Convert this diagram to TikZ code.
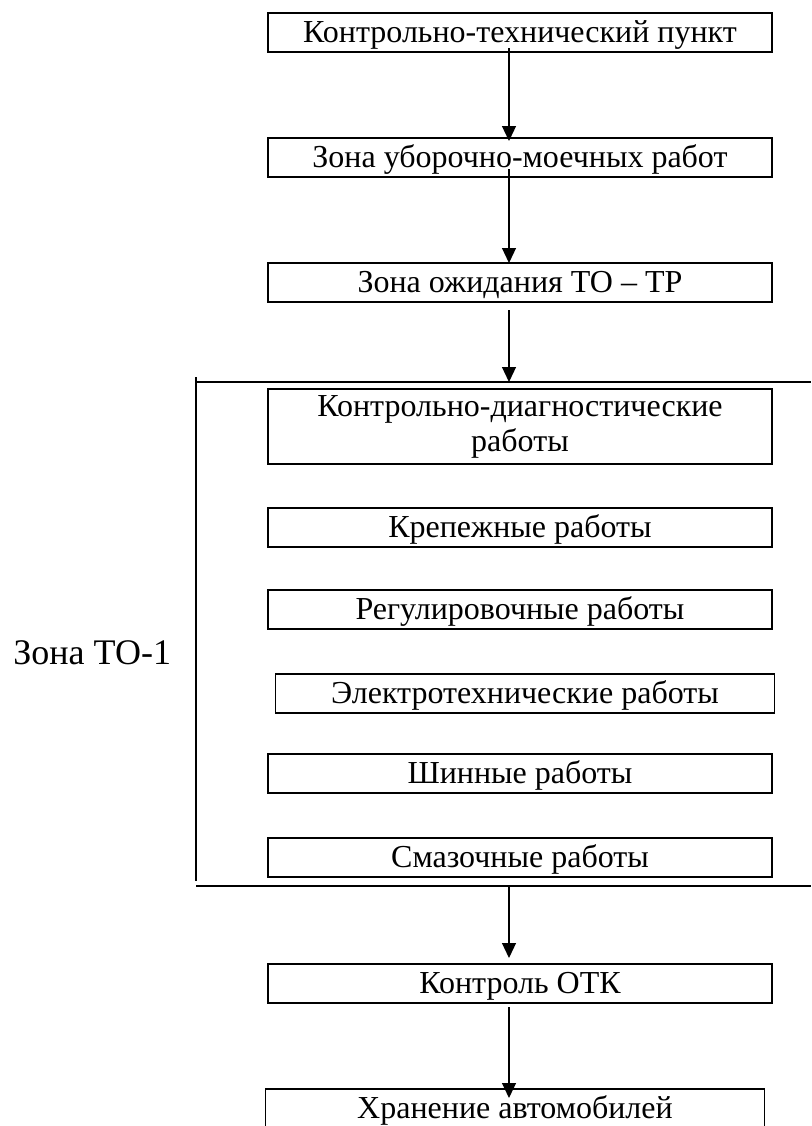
\documentclass[tikz,border=0pt]{standalone}
\usepackage{fontspec}
\setmainfont{Liberation Serif}
\usetikzlibrary{arrows.meta,positioning,calc}

\begin{document}
\begin{tikzpicture}[
    node distance=43pt,
    box/.style={rectangle, draw, line width=0.8pt, outer sep=0pt, minimum width=252pt, minimum height=19.5pt, inner xsep=1pt, inner ysep=0.5pt, text height=14pt, text depth=4.5pt, align=center, font=\fontsize{16}{17.5}\selectfont},
    twobox/.style={box, text height={}, text depth={}, minimum height=37.5pt},
    arrow/.style={-{Triangle[length=7.5pt,width=7pt]}, line width=0.6pt},
    zone/.style={line width=1pt}
]
\useasboundingbox (0,0) rectangle (405.5pt,-563pt);

% Entry chain
\node[box] (ktp) at (260pt,-16.25pt) {Контрольно-технический пункт};
\node[box, below=of ktp] (wash) {Зона уборочно-моечных работ};
\node[box, below=of wash] (wait) {Зона ожидания ТО – ТР};

% Zone TO-1
\node[twobox, below=43.5pt of wait] (diag) {Контрольно-диагностические\\работы};
\node[box, below=22pt of diag] (krep) {Крепежные работы};
\node[box, below=21.5pt of krep] (reg) {Регулировочные работы};
\node[box, minimum width=249.5pt, below=22.5pt of reg, xshift=2.5pt] (elec) {Электротехнические работы};
\node[box, below=20.5pt of elec, xshift=-2.5pt] (shin) {Шинные работы};
\node[box, below=22.5pt of shin] (smaz) {Смазочные работы};
\node[font=\fontsize{18}{22}\selectfont, inner sep=0pt, anchor=base west] (zlabel) at (6.5pt,-332pt) {Зона ТО-1};

% Exit chain
\node[box, below=43.5pt of smaz] (otk) {Контроль ОТК};
\node[box, minimum width=249.5pt, below=of otk, xshift=-2.5pt] (store) {Хранение автомобилей};

% Zone bracket
\coordinate (zl) at (98pt,0);
\coordinate (zr) at (405.5pt,0);
\coordinate (zt) at ($(diag.north)+(0,3.5pt)$);
\coordinate (zb) at ($(smaz.south)+(0,-4.5pt)$);
\draw[zone] (zl |- zt) -- (zr |- zt);
\draw[zone] (zl |- zb) -- (zr |- zb);
\draw[line width=0.8pt] ($(zl |- zt)+(0,2.5pt)$) -- ($(zl |- zb)+(0,2.5pt)$);

% Arrows
\coordinate (ax) at (254.5pt,0);
\draw[arrow] ($(ax |- ktp.south)+(0,2pt)$) -- ($(ax |- wash.north)+(0,-1.5pt)$);
\draw[arrow] ($(ax |- wash.south)+(0,4pt)$) -- (ax |- wait.north);
\draw[arrow] ($(ax |- wait.south)+(0,-4pt)$) -- (ax |- zt);
\draw[arrow] (ax |- zb) -- ($(ax |- otk.north)+(0,3pt)$);
\draw[arrow] ($(ax |- otk.south)+(0,-2pt)$) -- ($(ax |- store.north)+(0,-4.5pt)$);

\end{tikzpicture}
\end{document}
